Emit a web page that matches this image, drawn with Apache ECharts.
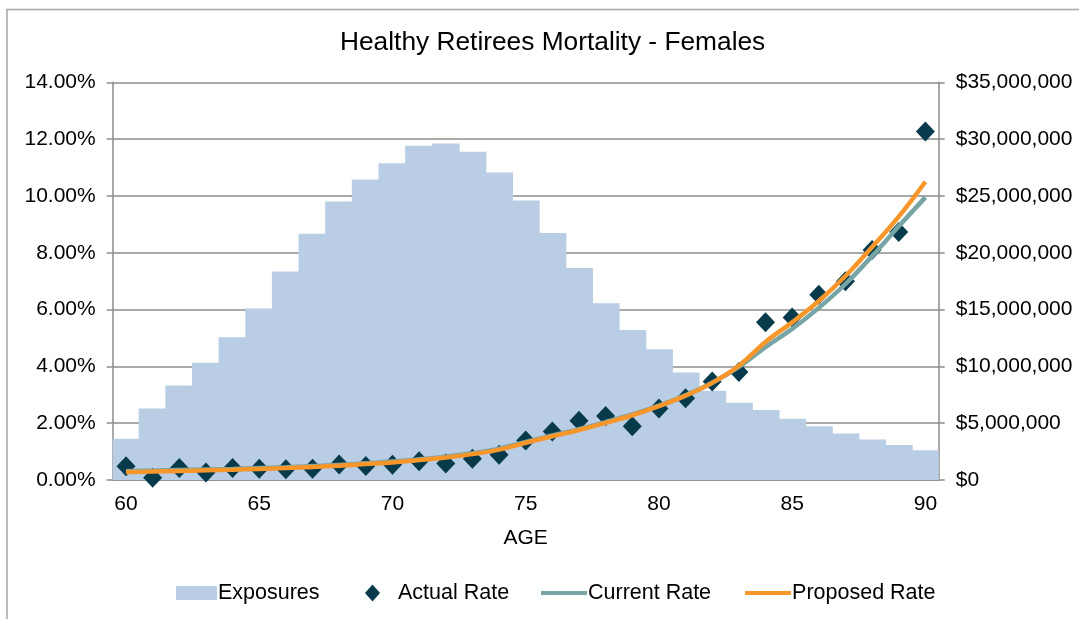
<!DOCTYPE html>
<html>
<head>
<meta charset="utf-8">
<script src="https://cdn.jsdelivr.net/npm/echarts@6/dist/echarts.min.js"></script>
<style>
  html, body { margin: 0; padding: 0; background: #fff; }
  #chart { width: 1079px; height: 619px; }
</style>
</head>
<body>
<div id="chart"></div>
<script>
// ages 60..90
const ages = ['60', '61', '62', '63', '64', '65', '66', '67', '68', '69', '70',
  '71', '72', '73', '74', '75', '76', '77', '78', '79', '80',
  '81', '82', '83', '84', '85', '86', '87', '88', '89', '90']

// exposures in dollars (right axis)
const exposures = [3620000, 6290000, 8320000, 10320000, 12560000, 15090000, 18350000,
  21680000, 24500000, 26440000, 27880000, 29410000, 29620000, 28880000, 27060000,
  24590000, 21740000, 18650000, 15560000, 13210000, 11500000, 9470000, 7850000,
  6790000, 6150000, 5380000, 4740000, 4090000, 3560000, 3090000, 2620000]

// rates in percent (left axis)
const actualRate = [0.48, 0.08, 0.42, 0.26, 0.42, 0.40, 0.38, 0.40, 0.55, 0.49, 0.54,
  0.66, 0.58, 0.75, 0.89, 1.39, 1.71, 2.09, 2.25, 1.89, 2.52,
  2.88, 3.47, 3.80, 5.55, 5.72, 6.52, 7.00, 8.10, 8.73, 12.27]

const currentRate = [0.31, 0.33, 0.35, 0.37, 0.39, 0.42, 0.45, 0.49, 0.53, 0.59, 0.65,
  0.73, 0.82, 0.94, 1.10, 1.34, 1.57, 1.79, 2.04, 2.31, 2.62,
  2.98, 3.42, 3.98, 4.68, 5.32, 6.06, 6.90, 7.88, 8.93, 9.95]

const proposedRate = [0.28, 0.30, 0.32, 0.34, 0.36, 0.39, 0.42, 0.46, 0.50, 0.56, 0.62,
  0.70, 0.79, 0.91, 1.07, 1.31, 1.54, 1.76, 2.01, 2.28, 2.60,
  2.97, 3.42, 4.02, 4.86, 5.55, 6.30, 7.18, 8.20, 9.27, 10.50]

const font = 'Liberation Sans, Arial, sans-serif'
const gray = '#8c8c8c'

let chart = echarts.init(document.getElementById('chart'))
chart.setOption({
  animation: false,
  textStyle: { fontFamily: font, color: '#000' },
  title: {
    text: 'Healthy Retirees Mortality - Females',
    left: 340,
    top: 30,
    padding: 0,
    textStyle: { fontFamily: font, fontSize: 26.3, fontWeight: 'normal', color: '#000' }
  },
  graphic: [
    { // outer frame (only left + top edges fall inside the picture)
      type: 'rect',
      shape: { x: 7, y: 9.5, width: 1200, height: 700 },
      style: { fill: 'none', stroke: '#a6a6a6', lineWidth: 1.5 },
      silent: true
    }
  ],
  legend: [
    {
      data: ['Exposures'],
      left: 171,
      top: 577,
      itemWidth: 41,
      itemHeight: 14,
      itemGap: 0,
      icon: 'rect',
      textStyle: { fontFamily: font, fontSize: 21.5, color: '#000', padding: [0, 0, 0, -4] }
    },
    {
      data: ['Actual Rate'],
      left: 360,
      top: 577,
      itemWidth: 15,
      itemHeight: 17,
      icon: 'diamond',
      itemGap: 0,
      textStyle: { fontFamily: font, fontSize: 21.5, color: '#000', padding: [0, 0, 0, 13] }
    },
    {
      data: ['Current Rate', 'Proposed Rate'],
      left: 536,
      top: 577,
      itemWidth: 46,
      itemHeight: 4,
      itemGap: 34,
      icon: 'rect',
      textStyle: { fontFamily: font, fontSize: 21.5, color: '#000', padding: [0, 0, 0, -4] }
    }
  ],
  grid: { left: 112.7, right: 140.3, top: 82.3, bottom: 139 },
  xAxis: {
    type: 'category',
    data: ages,
    boundaryGap: true,
    name: 'AGE',
    nameLocation: 'middle',
    nameGap: 48,
    nameTextStyle: { fontFamily: font, fontSize: 21, color: '#000' },
    axisLine: { lineStyle: { color: gray, width: 1.5 } },
    axisTick: { interval: 0, length: 6, lineStyle: { color: gray, width: 1.5 } },
    axisLabel: { interval: 4, margin: 14, fontFamily: font, fontSize: 21, color: '#000' }
  },
  yAxis: [
    {
      type: 'value',
      min: 0,
      max: 14,
      interval: 2,
      axisLine: { show: true, lineStyle: { color: gray, width: 1.5 } },
      axisTick: { show: true, length: 6, lineStyle: { color: gray, width: 1.5 } },
      splitLine: { lineStyle: { color: gray, width: 1.5 } },
      axisLabel: {
        margin: 17,
        fontFamily: font,
        fontSize: 21,
        color: '#000',
        formatter: function (v) { return v.toFixed(2) + '%' }
      }
    },
    {
      type: 'value',
      min: 0,
      max: 35000000,
      interval: 5000000,
      position: 'right',
      axisLine: { show: true, lineStyle: { color: gray, width: 1.5 } },
      axisTick: { show: true, length: 6, lineStyle: { color: gray, width: 1.5 } },
      splitLine: { show: false },
      axisLabel: {
        margin: 17,
        fontFamily: font,
        fontSize: 21,
        color: '#000',
        formatter: function (v) { return '$' + v.toLocaleString('en-US') }
      }
    }
  ],
  series: [
    {
      name: 'Exposures',
      type: 'bar',
      yAxisIndex: 1,
      data: exposures,
      barWidth: '105%', // slight overlap so no seams show between steps
      itemStyle: { color: '#b9cde5' }
    },
    {
      name: 'Current Rate',
      type: 'line',
      data: currentRate,
      smooth: 0.4,
      showSymbol: false,
      symbol: 'none',
      color: '#77a5a6',
      lineStyle: { color: '#77a5a6', width: 4.5 }
    },
    {
      name: 'Proposed Rate',
      type: 'line',
      data: proposedRate,
      smooth: 0.4,
      showSymbol: false,
      symbol: 'none',
      color: '#f7962b',
      lineStyle: { color: '#f7962b', width: 4.5 }
    },
    {
      name: 'Actual Rate',
      type: 'scatter',
      data: actualRate,
      symbol: 'diamond',
      symbolSize: [19, 20],
      itemStyle: { color: '#073b4c', opacity: 1 }
    }
  ]
})
window.addEventListener('resize', function () {
  chart.resize()
})
</script>
</body>
</html>
